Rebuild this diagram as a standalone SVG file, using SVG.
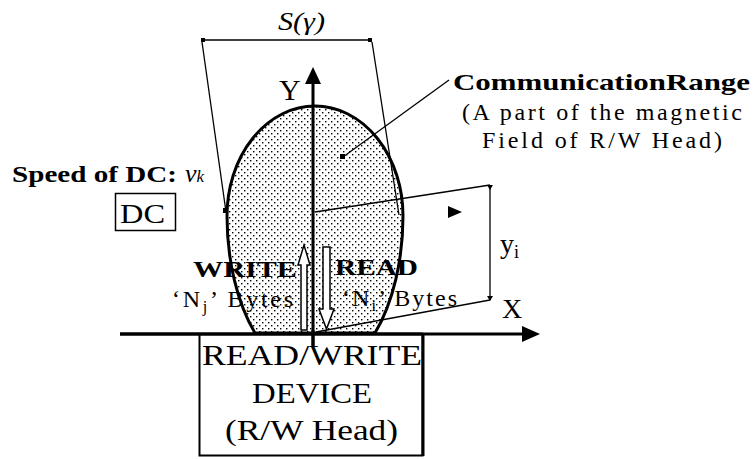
<svg xmlns="http://www.w3.org/2000/svg" width="753" height="459" viewBox="0 0 753 459">
<defs>
<pattern id="dots" width="6" height="6" patternUnits="userSpaceOnUse">
<rect x="1" y="1" width="1.4" height="1.4" fill="#000"/>
<rect x="4" y="4" width="1.4" height="1.4" fill="#000"/>
</pattern>
<style>
.t{font-family:"Liberation Serif","Times New Roman",serif;fill:#000}
.b{font-weight:bold}
.ln{stroke:#000;fill:none;stroke-width:1.3}
.ax{stroke:#000;fill:none;stroke-width:3}
</style>
</defs>
<rect width="753" height="459" fill="#fff"/>

<g id="range">
<path d="M227 216 A88 110 0 0 1 403 216 A88 160 0 0 1 375 333 L255 333 A88 160 0 0 1 227 216 Z" fill="url(#dots)" stroke="#000" stroke-width="3"/>
</g>

<g id="connectors">
<line class="ln" x1="203" y1="40" x2="371" y2="40"/>
<rect x="201" y="38" width="4" height="4" fill="#000"/>
<rect x="368" y="38" width="4" height="4" fill="#000"/>
<line class="ln" x1="202" y1="42" x2="226" y2="212"/>
<rect x="223" y="208" width="5" height="5" fill="#000"/>
<line class="ln" x1="372" y1="42" x2="399" y2="215"/>
<line class="ln" x1="343" y1="157" x2="449" y2="80"/>
<rect x="340" y="154" width="5" height="5" fill="#000"/>
<line class="ln" x1="315" y1="212" x2="490" y2="185"/>
<line class="ln" x1="316" y1="332" x2="490" y2="300"/>
<line class="ln" x1="490" y1="185" x2="490" y2="300"/>
<path d="M487 185 L493 185 L490 190 Z" fill="#000"/>
<path d="M487 296 L493 296 L490 301 Z" fill="#000"/>
<path d="M448 206 L462 212 L448 218 Z" fill="#000"/>
<line class="ax" x1="120" y1="334" x2="526" y2="334"/>
<path d="M540 334 L522 326 L522 342 Z" fill="#000"/>
<line class="ax" x1="313" y1="347" x2="313" y2="82"/>
<path d="M313 67 L305 84 L321 84 Z" fill="#000"/>
<path d="M301 330 L301 265 L298 265 L304 245 L310 265 L307 265 L307 330 Z" fill="#fff" stroke="#000" stroke-width="1.5"/>
<path d="M323 247 L330 247 L330 309 L334 309 L326.5 329 L319 309 L323 309 Z" fill="#fff" stroke="#000" stroke-width="1.5"/>
</g>

<g id="device">
<rect x="199.5" y="334" width="223" height="121.5" fill="none" stroke="#000" stroke-width="2"/>
<line x1="423" y1="334" x2="423" y2="456" stroke="#000" stroke-width="3"/>
<line class="ax" x1="120" y1="334" x2="423" y2="334"/>
<line class="ax" x1="313" y1="330" x2="313" y2="347"/>
<text class="t" x="202" y="365" font-size="29" textLength="220" lengthAdjust="spacingAndGlyphs">READ/WRITE</text>
<text class="t" x="252" y="403" font-size="29" textLength="120" lengthAdjust="spacingAndGlyphs">DEVICE</text>
<text class="t" x="225" y="440" font-size="29" textLength="173" lengthAdjust="spacingAndGlyphs">(R/W Head)</text>
</g>

<g id="dc">
<rect x="115.5" y="193.5" width="60" height="37" fill="none" stroke="#000" stroke-width="1.5"/>
<text class="t" x="120" y="223" font-size="28" textLength="45" lengthAdjust="spacingAndGlyphs">DC</text>
<text class="t b" x="12" y="182" font-size="24" textLength="165" lengthAdjust="spacingAndGlyphs">Speed of DC:</text>
<text class="t" x="185" y="182" font-size="26" font-style="italic">ν<tspan font-size="17">k</tspan></text>
</g>

<g id="labels">
<text class="t" x="278" y="30" font-size="26" font-style="italic" textLength="47" lengthAdjust="spacingAndGlyphs">S(γ)</text>
<text class="t" x="279" y="100" font-size="30">Y</text>
<text class="t b" x="453" y="90" font-size="24" textLength="297" lengthAdjust="spacingAndGlyphs">CommunicationRange</text>
<text class="t" x="462" y="120" font-size="24" textLength="280" lengthAdjust="spacing">(A part of the magnetic</text>
<text class="t" x="482" y="148" font-size="24" textLength="240" lengthAdjust="spacing">Field of R/W Head)</text>
<text class="t b" x="193" y="277" font-size="24" textLength="104" lengthAdjust="spacingAndGlyphs">WRITE</text>
<text class="t" x="172" y="307" font-size="24" textLength="121" lengthAdjust="spacing">‘N<tspan font-size="16" dy="5">j</tspan><tspan dy="-5">’ Bytes</tspan></text>
<text class="t b" x="335" y="275" font-size="24" textLength="83" lengthAdjust="spacingAndGlyphs">READ</text>
<text class="t" x="342" y="306" font-size="24" textLength="115" lengthAdjust="spacing">‘N<tspan font-size="16" dy="5">i</tspan><tspan dy="-5">’ Bytes</tspan></text>
<text class="t" x="500" y="253" font-size="28">y<tspan font-size="18" dy="5">i</tspan></text>
<text class="t" x="502" y="318" font-size="28">X</text>
</g>
</svg>
